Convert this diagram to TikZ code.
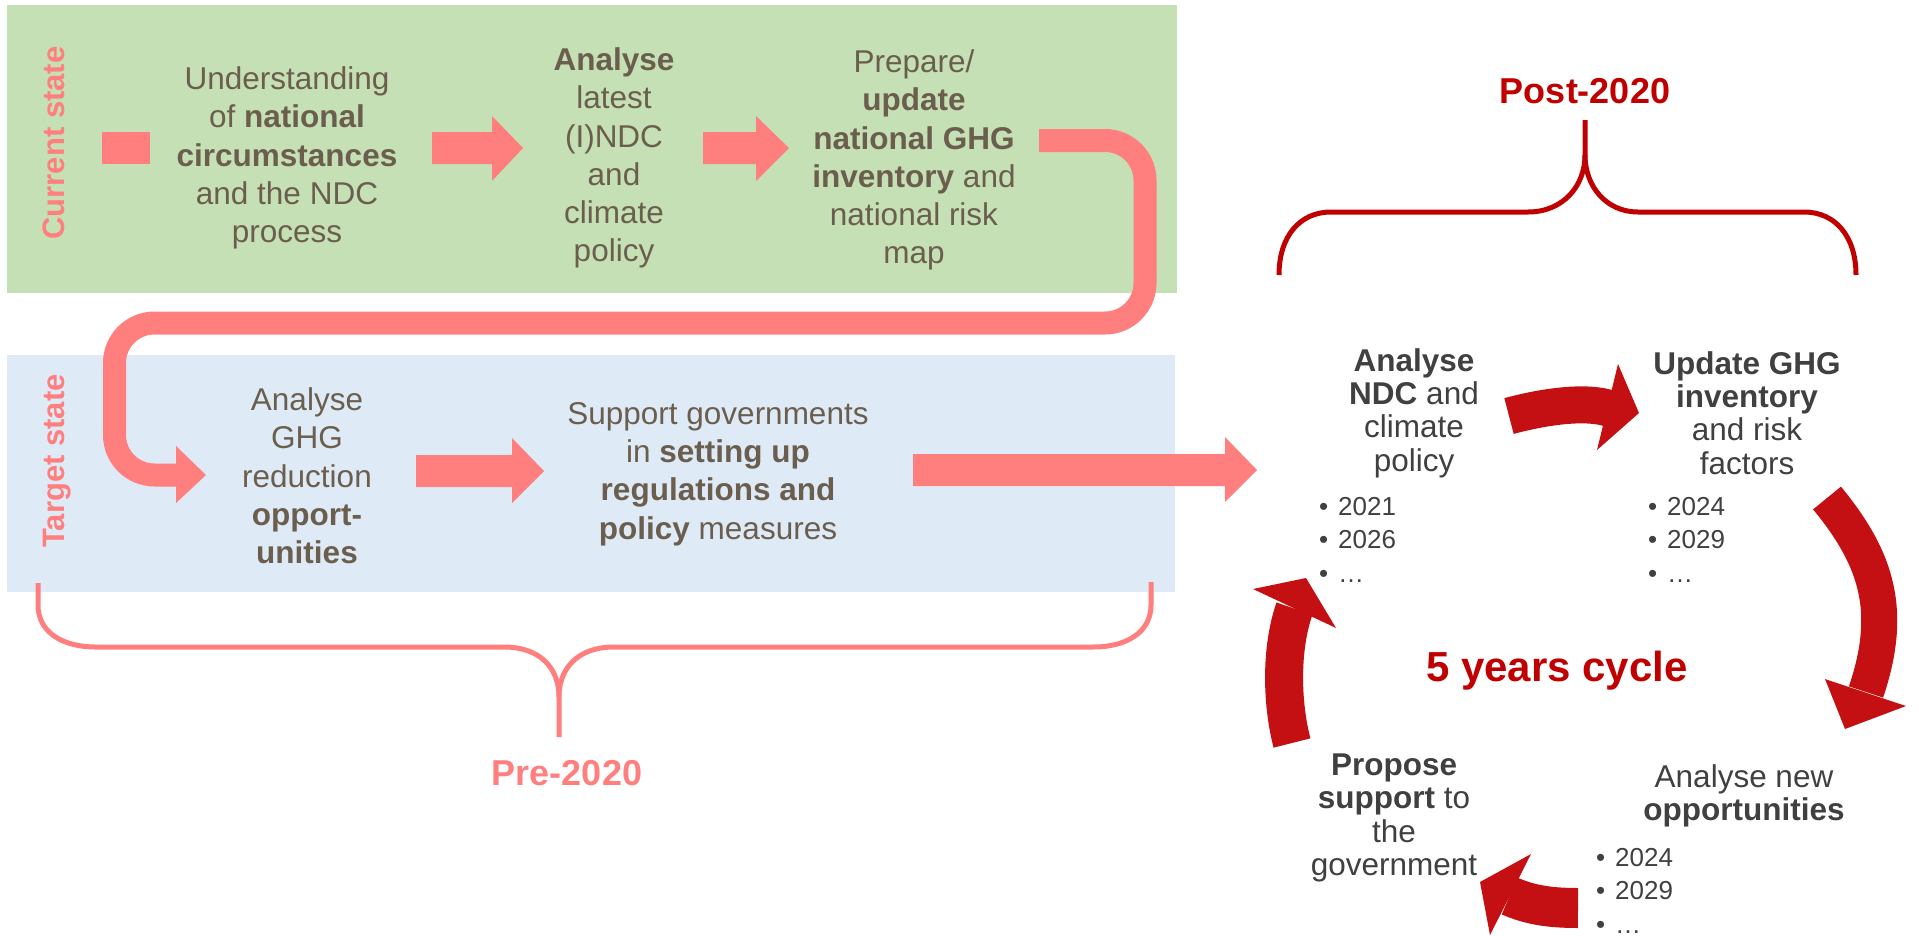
\documentclass[tikz,border=0pt]{standalone}
\usepackage{fontspec}
\setmainfont{Liberation Sans}
\usetikzlibrary{calc}
\definecolor{pinkc}{HTML}{FF7F7F}
\definecolor{redc}{HTML}{C41012}
\definecolor{posttxt}{HTML}{C00000}
\definecolor{greenbg}{HTML}{C5E0B4}
\definecolor{bluebg}{HTML}{DEEBF7}
\definecolor{txtl}{HTML}{6B5E4E}
\definecolor{txtr}{HTML}{404040}
\begin{document}
\begin{tikzpicture}[x=1pt,y=-1pt,
  lefttxt/.style={align=center, text=txtl, font=\fontsize{31.5}{38.3}\selectfont, inner sep=0pt},
  righttxt/.style={align=center, text=txtr, font=\fontsize{31.5}{33.4}\selectfont, inner sep=0pt},
  bullets/.style={align=left, text=txtr, font=\fontsize{26}{33.5}\selectfont, inner sep=0pt, anchor=north west},
  statelbl/.style={rotate=90, text=pinkc, font=\bfseries\fontsize{31}{36}\selectfont, inner sep=0pt},
  periodlbl/.style={font=\bfseries\fontsize{36}{40}\selectfont, inner sep=0pt},
  blockarrow/.style={fill=pinkc},
  uturn/.style={draw=pinkc, line width=23pt, rounded corners=40pt},
  cycleshaft/.style={draw=redc},
  cyclehead/.style={fill=redc},
  bracestyle/.style={line width=5pt}
]
\useasboundingbox (0,0) rectangle (1919,935);
% background panels
\fill[greenbg] (7,5) rectangle (1177,293);
\fill[bluebg] (7,355) rectangle (1175,592);

% state labels
\node[statelbl] (cur) at (54,143) {Current state};
\node[statelbl] (tgt) at (57,461) {Target state};

% left texts
\node[lefttxt] (t1) at (287,158) {Understanding\\of \textbf{national}\\\textbf{circumstances}\\and the NDC\\process};
\node[lefttxt] (t2) at (614,158) {\textbf{Analyse}\\latest\\(I)NDC\\and\\climate\\policy};
\node[lefttxt] (t3) at (914,160) {Prepare/\\\textbf{update}\\\textbf{national GHG}\\\textbf{inventory} and\\national risk\\map};
\node[lefttxt] (t4) at (307,476) {Analyse\\GHG\\reduction\\\textbf{opport-}\\\textbf{unities}};
\node[lefttxt] (t5) at (718,474) {Support governments\\in \textbf{setting up}\\\textbf{regulations and}\\\textbf{policy} measures};

% start square and block arrows
\fill[blockarrow] (102,132) rectangle (150,164);
\fill[blockarrow] (432,132) -- (492,132) -- (492,116) -- (523,148) -- (492,181) -- (492,164) -- (432,164) -- cycle;
\fill[blockarrow] (703,132) -- (756,132) -- (756,116) -- (789,148) -- (756,181) -- (756,164) -- (703,164) -- cycle;
\fill[blockarrow] (416,455) -- (512,455) -- (512,438) -- (544,471) -- (512,503) -- (512,487) -- (416,487) -- cycle;
\fill[blockarrow] (913,454) -- (1225,454) -- (1225,437) -- (1257,470) -- (1225,502) -- (1225,486) -- (913,486) -- cycle;

% U-turn connector
\coordinate (ustart) at (1039,140.5);
\coordinate (uend) at (178,475);
\draw[uturn] (ustart) -- (1145,140.5) -- (1145,323) -- (114.5,323) -- (114.5,475) -- (uend);
\fill[blockarrow] (176,446) -- (206,475) -- (176,503) -- cycle;

% pre-2020 brace
\draw[pinkc, bracestyle] (38,583) -- (38,605) .. controls (38,632) and (62,647) .. (96,647) -- (504,647) .. controls (540,647) and (559,668) .. (559,697) -- (559,737);
\draw[pinkc, bracestyle] (1151,582) -- (1151,605) .. controls (1151,632) and (1127,647) .. (1093,647) -- (614,647) .. controls (578,647) and (559,668) .. (559,697);
\node[periodlbl, text=pinkc] (pre) at (567,773) {Pre-2020};

% post-2020 brace
\node[periodlbl, text=posttxt] (post) at (1585,91) {Post-2020};
\draw[posttxt, bracestyle] (1279,275) .. controls (1279,236) and (1300,212) .. (1331,212) -- (1528,212) .. controls (1563,212) and (1585,186) .. (1585,155) -- (1585,120);
\draw[posttxt, bracestyle] (1856,275) .. controls (1856,236) and (1835,212) .. (1804,212) -- (1638,212) .. controls (1606,212) and (1585,186) .. (1585,155);

% cycle texts
\node[righttxt] (c1) at (1414,413) {\textbf{Analyse}\\\textbf{NDC} and\\climate\\policy};
\node[righttxt] (c2) at (1747,413) {\textbf{Update GHG}\\\textbf{inventory}\\and risk\\factors};
\node[righttxt] (c3) at (1744,796) {Analyse new\\\textbf{opportunities}};
\node[righttxt] (c4) at (1394,818) {\textbf{Propose}\\\textbf{support} to\\the\\government};
\node[bullets] (b1) at (1319,497) {\makebox[19pt][l]{•}2021\\\makebox[19pt][l]{•}2026\\\makebox[19pt][l]{•}…};
\node[bullets] (b2) at (1648,497) {\makebox[19pt][l]{•}2024\\\makebox[19pt][l]{•}2029\\\makebox[19pt][l]{•}…};
\node[bullets] (b3) at (1596,848) {\makebox[19pt][l]{•}2024\\\makebox[19pt][l]{•}2029\\\makebox[19pt][l]{•}…};
\node[font=\bfseries\fontsize{42}{48}\selectfont, text=posttxt, inner sep=0pt] (cyc) at (1557,671) {5 years cycle};

% cycle arrows
\coordinate (a1s) at (1509,416); \coordinate (a1e) at (1608,408);
\draw[cycleshaft, line width=37pt] (a1s) .. controls (1535,409) and (1580,400) .. (a1e);
\fill[cyclehead] (1618,364) -- (1639,413) -- (1597,450) -- cycle;

\coordinate (a2s) at (1827,498); \coordinate (a2e) at (1866,692);
\draw[cycleshaft, line width=36pt] (a2s) .. controls (1878,560) and (1893,612) .. (a2e);
\fill[cyclehead] (1825,679) -- (1845,729) -- (1906,706) -- cycle;

\coordinate (a3s) at (1578,908); \coordinate (a3e) at (1509.5,896);
\draw[cycleshaft, line width=40pt] (a3s) .. controls (1550,908) and (1530,905) .. (a3e);
\fill[cyclehead] (1531,854) -- (1480,882) -- (1490,935) -- cycle;

\coordinate (a4s) at (1292,743); \coordinate (a4e) at (1294.5,608.5);
\draw[cycleshaft, line width=38pt] (a4s) .. controls (1282,705) and (1280,650) .. (a4e);
\fill[cyclehead] (1253,589) -- (1306,578) -- (1336,628) -- cycle;
\end{tikzpicture}
\end{document}
